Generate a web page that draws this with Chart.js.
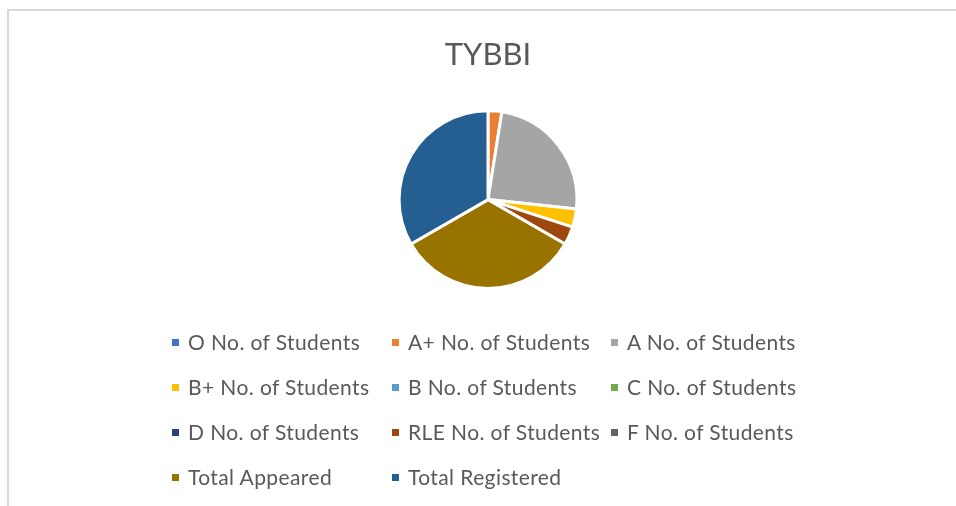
<!DOCTYPE html>
<html><head><meta charset="utf-8">
<script src="https://cdn.jsdelivr.net/npm/chart.js@4"></script>
<style>
html,body{margin:0;padding:0;background:#fff;}
body{width:956px;height:506px;position:relative;overflow:hidden;font-family:Lato,"Open Sans",sans-serif;}
#frame{position:absolute;left:7px;top:9px;width:960px;height:520px;border-top:2px solid #d9d9d9;border-left:2px solid #d9d9d9;}
#wrap{position:absolute;left:20px;top:0;width:936px;height:506px;}
#legend{position:absolute;left:0;top:0;width:956px;height:506px;pointer-events:none;}
.li{position:absolute;font-size:21px;letter-spacing:0.4px;color:#595959;white-space:nowrap;line-height:24px;}
.li i{position:absolute;width:7px;height:7px;left:-16px;top:9px;}
</style></head><body>
<div id="frame"></div>
<div id="wrap"><canvas id="c"></canvas></div>
<div id="legend"></div>
<script>
const title = "TYBBI";
const categories = ["O No. of Students","A+ No. of Students","A No. of Students","B+ No. of Students","B No. of Students","C No. of Students","D No. of Students","RLE No. of Students","F No. of Students","Total Appeared","Total Registered"];
const values = [0,3,29,4,0,0,0,4,0,40,40];
const colors = ["#4472C4","#ED7D31","#A5A5A5","#FFC000","#5B9BD5","#70AD47","#264478","#9E480E","#636363","#997300","#255E91"];

const chart = new Chart(document.getElementById('c'), {
  type: 'pie',
  data: { labels: categories, datasets: [{ data: values, backgroundColor: colors, borderColor: '#ffffff', borderWidth: 3 }] },
  options: {
    responsive: true, maintainAspectRatio: false, animation: false,
    layout: { padding: { top: 0, bottom: 216, left: 0, right: 0 } },
    plugins: {
      legend: { display: false },
      tooltip: { enabled: false },
      title: { display: true, text: title, color: '#595959', font: { family: 'Lato', size: 31, weight: 'normal' }, padding: { top: 36, bottom: 36 } }
    }
  }
});

// HTML legend in Excel-like grid built from categories/colors
const colX = [188, 408, 627];
const rowY = [330, 375, 420, 465];
const lg = document.getElementById('legend');
categories.forEach((name, i) => {
  const d = document.createElement('div');
  d.className = 'li';
  d.style.left = colX[i % 3] + 'px';
  d.style.top = rowY[Math.floor(i / 3)] + 'px';
  d.innerHTML = '<i style="background:' + colors[i] + '"></i>' + name;
  lg.appendChild(d);
});
</script>
</body></html>
